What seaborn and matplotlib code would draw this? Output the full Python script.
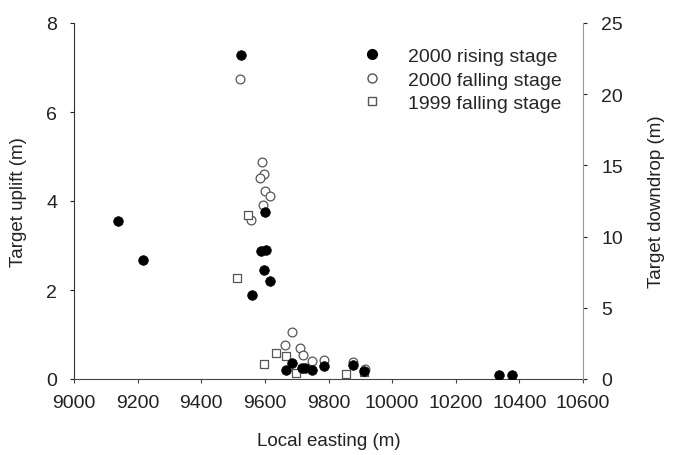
import numpy as np
import pandas as pd
import seaborn as sns
import matplotlib
matplotlib.use('Agg')
import matplotlib.pyplot as plt
from matplotlib.lines import Line2D

# 2000 rising stage -> target uplift (left axis, m)
rise_x = [9525, 9137, 9218, 9599, 9587, 9602, 9597, 9617, 9559,
          9666, 9684, 9716, 9727, 9749, 9787, 9877, 9912, 10337, 10377]
rise_y = [7.27, 3.54, 2.67, 3.76, 2.87, 2.91, 2.44, 2.21, 1.89,
          0.20, 0.36, 0.25, 0.25, 0.21, 0.30, 0.31, 0.19, 0.10, 0.10]

# 2000 falling stage -> target downdrop (right axis, m)
fall00_x = [9523, 9592, 9598, 9585, 9600, 9616, 9593, 9557,
            9684, 9664, 9709, 9721, 9748, 9786, 9876, 9914]
fall00_y = [21.1, 15.26, 14.37, 14.09, 13.23, 12.85, 12.24, 11.19,
            3.33, 2.39, 2.19, 1.72, 1.24, 1.36, 1.22, 0.70]

# 1999 falling stage -> target downdrop (right axis, m)
fall99_x = [9546, 9511, 9597, 9636, 9667, 9697, 9855, 9912]
fall99_y = [11.52, 7.07, 1.06, 1.83, 1.64, 0.45, 0.36, 0.47]

rise_df = pd.DataFrame({'x': rise_x, 'y': rise_y})
f00_df = pd.DataFrame({'x': fall00_x, 'y': fall00_y})
f99_df = pd.DataFrame({'x': fall99_x, 'y': fall99_y})

sns.set_style('ticks')
plt.rcParams['font.family'] = ['Liberation Sans', 'DejaVu Sans']
plt.rcParams['font.size'] = 14

fig = plt.figure(figsize=(6.78, 4.56), dpi=100)
ax = fig.add_axes([74 / 678, 76 / 456, (583 - 74) / 678, (380 - 24) / 456])
ax2 = ax.twinx()

grey = '#555555'
sns.scatterplot(data=f00_df, x='x', y='y', ax=ax2, marker='o', s=40,
                facecolor='white', edgecolor=grey, linewidth=0.9, zorder=2)
sns.scatterplot(data=f99_df, x='x', y='y', ax=ax2, marker='s', s=36,
                facecolor='white', edgecolor=grey, linewidth=0.9, zorder=2)
sns.scatterplot(data=rise_df, x='x', y='y', ax=ax2, marker='o', s=48,
                color='black', edgecolor='black', linewidth=0.5, zorder=3,
                transform=ax.transData)

ax.set_xlim(9000, 10600)
ax.set_ylim(0, 8)
ax2.set_ylim(0, 25)
ax.set_xticks(np.arange(9000, 10601, 200))
ax.set_yticks([0, 2, 4, 6, 8])
ax2.set_yticks([0, 5, 10, 15, 20, 25])

ax.set_xlabel('Local easting (m)', fontsize=13.5, color='#222222', labelpad=15)
ax.set_ylabel('Target uplift (m)', fontsize=13.5, color='#222222', labelpad=14)
ax2.set_xlabel('')
ax2.set_ylabel('Target downdrop (m)', fontsize=13.5, color='#222222', labelpad=18)

for a in (ax, ax2):
    a.spines['top'].set_visible(False)
    a.tick_params(labelsize=14, colors='#222222', length=3, width=0.8)
ax.tick_params(axis='x', pad=8, color='#444444')
ax.tick_params(axis='y', pad=9)
ax2.tick_params(axis='y', pad=10)
ax.spines['left'].set_color('#333333')
ax.spines['bottom'].set_color('#444444')
ax.spines['right'].set_visible(False)
ax2.spines['left'].set_visible(False)
ax2.spines['bottom'].set_visible(False)
ax2.spines['right'].set_color('#999999')

handles = [
    Line2D([], [], marker='o', linestyle='', markerfacecolor='black',
           markeredgecolor='black', markersize=7),
    Line2D([], [], marker='o', linestyle='', markerfacecolor='white',
           markeredgecolor=grey, markersize=6.5),
    Line2D([], [], marker='s', linestyle='', markerfacecolor='white',
           markeredgecolor=grey, markersize=6),
]
labels = ['2000 rising stage', '2000 falling stage', '1999 falling stage']
ax2.legend(handles, labels, loc='upper right', frameon=False, fontsize=14,
           bbox_to_anchor=(0.992, 0.98), handletextpad=1.35, labelspacing=0.3,
           handlelength=1.0)

fig.savefig('out.png', dpi=100)
